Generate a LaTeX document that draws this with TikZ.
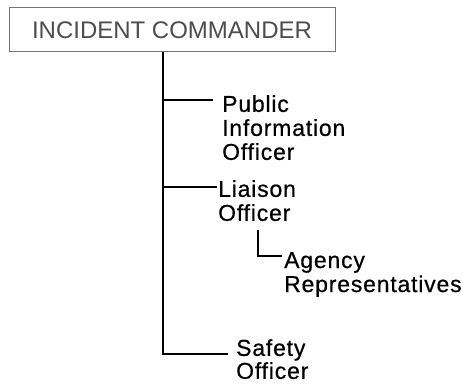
\documentclass[tikz,border=0pt]{standalone}
\usepackage{fontspec}
\setmainfont{Liberation Sans}
\newfontfamily\lblfont[LetterSpace=3.5,FakeBold=0.6]{Liberation Sans}
\begin{document}
\begin{tikzpicture}[x=1pt,y=-1pt,
  conn/.style={line width=1.8pt,black},
  lbl/.style={anchor=north west,inner sep=0pt,align=left,font=\lblfont\fontsize{23}{24}\selectfont},
  topbox/.style={draw=black!55,line width=1pt,minimum width=326pt,minimum height=44pt,inner sep=0pt,text=black!70,font=\fontsize{24}{26}\selectfont}]
\useasboundingbox (0,0) rectangle (463,385);
\node[topbox] (ic) at (172,30) {INCIDENT COMMANDER};
\node[lbl] (pio) at (222,95) {Public\\Information\\Officer};
\node[lbl] (lo) at (218,180) {Liaison\\Officer};
\node[lbl] (ar) at (284,252) {Agency\\Representatives};
\node[lbl,font=\lblfont\fontsize{23}{23}\selectfont] (so) at (236,339) {Safety\\Officer};
\coordinate (tb) at (163,354);
\coordinate (t1) at (163,100);
\coordinate (t2) at (163,187);
\coordinate (e1) at (213,100);
\coordinate (e2) at (217,187);
\coordinate (e3) at (228,354);
\coordinate (a0) at (258,230);
\coordinate (a1) at (258,256);
\coordinate (a2) at (282,256);
\draw[conn] (ic.south -| tb) -- (tb) -- (e3);
\draw[conn] (t1) -- (e1);
\draw[conn] (t2) -- (e2);
\draw[conn,line width=1.4pt] (a0) -- (a1) -- (a2);
\end{tikzpicture}
\end{document}
